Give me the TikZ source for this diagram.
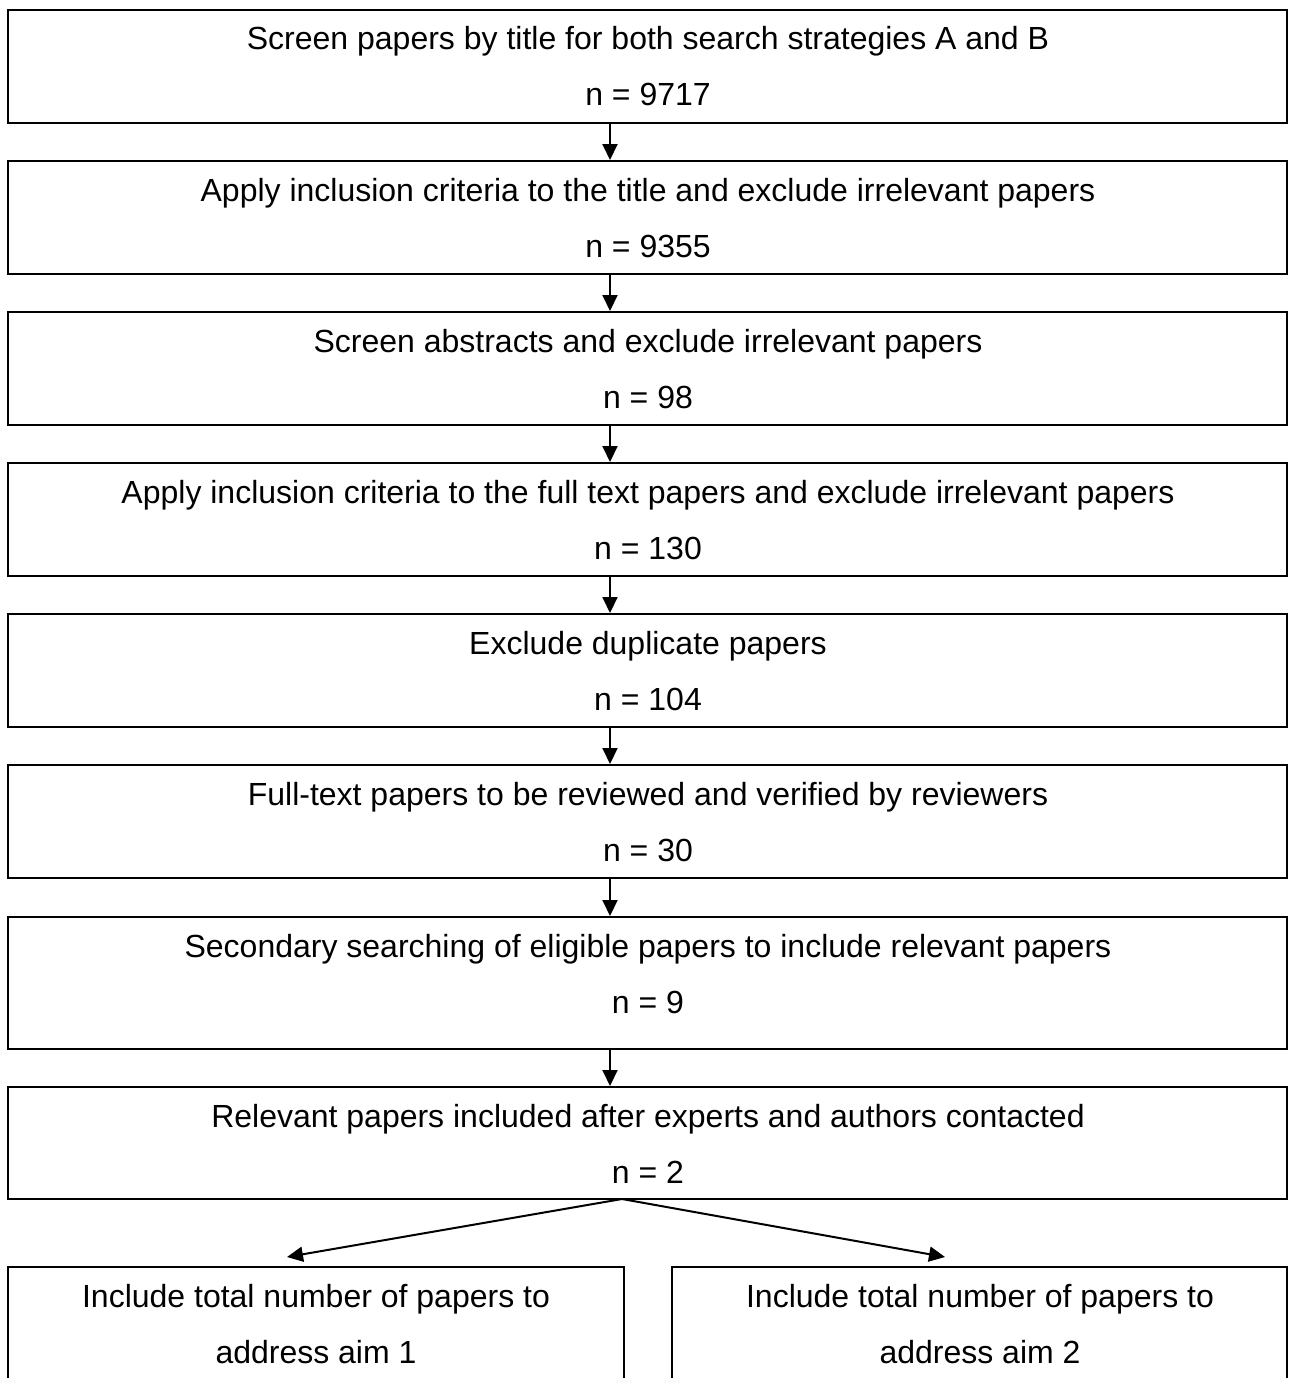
\documentclass[tikz,border=0pt]{standalone}
\usepackage{fontspec}
\setmainfont{Liberation Sans}
\usetikzlibrary{arrows.meta}
\begin{document}
\begin{tikzpicture}[x=1pt,y=-1pt,
  stagebox/.style={draw=black,line width=2pt,inner sep=0pt},
  stagetext/.style={inner sep=0pt,font=\fontsize{32}{36}\selectfont,anchor=base},
  flow/.style={line width=2pt,-{Triangle[length=16pt,width=15pt]}}]
\useasboundingbox (0,0) rectangle (1288,1378);
\begin{scope}
\clip (0,0) rectangle (1288,1378);
% stage boxes: name, top, bottom
\foreach \n/\t/\b in {b1/10/123,b2/161/274,b3/312/425,b4/463/576,b5/614/727,b6/765/878,b7/917/1049,b8/1087/1199}{
  \node[stagebox,minimum width=1279pt,minimum height=\b pt-\t pt] (\n) at (647.5,{(\t+\b)/2}) {};
}
\node[stagebox,minimum width=616pt,minimum height=140pt] (b9) at (316,1337) {};
\node[stagebox,minimum width=615pt,minimum height=140pt] (b10) at (979.5,1337) {};
\end{scope}
% box texts (baselines)
\node[stagetext] (t1a) at (648,50) {Screen papers by title for both search strategies A and B};
\node[stagetext] (t1b) at (648,106) {n = 9717};
\node[stagetext] (t2a) at (648,201) {Apply inclusion criteria to the title and exclude irrelevant papers};
\node[stagetext] (t2b) at (648,257) {n = 9355};
\node[stagetext] (t3a) at (648,352) {Screen abstracts and exclude irrelevant papers};
\node[stagetext] (t3b) at (648,408) {n = 98};
\node[stagetext] (t4a) at (648,503) {Apply inclusion criteria to the full text papers and exclude irrelevant papers};
\node[stagetext] (t4b) at (648,559) {n = 130};
\node[stagetext] (t5a) at (648,654) {Exclude duplicate papers};
\node[stagetext] (t5b) at (648,710) {n = 104};
\node[stagetext] (t6a) at (648,805) {Full-text papers to be reviewed and verified by reviewers};
\node[stagetext] (t6b) at (648,861) {n = 30};
\node[stagetext] (t7a) at (648,957) {Secondary searching of eligible papers to include relevant papers};
\node[stagetext] (t7b) at (648,1013) {n = 9};
\node[stagetext] (t8a) at (648,1127) {Relevant papers included after experts and authors contacted};
\node[stagetext] (t8b) at (648,1183) {n = 2};
\node[stagetext] (t9a) at (316,1307) {Include total number of papers to};
\node[stagetext] (t9b) at (316,1363) {address aim 1};
\node[stagetext] (t10a) at (980,1307) {Include total number of papers to};
\node[stagetext] (t10b) at (980,1363) {address aim 2};
% vertical connectors
\foreach \a/\b in {b1/b2,b2/b3,b3/b4,b4/b5,b5/b6,b6/b7,b7/b8}{
  \draw[flow] (\a.south -| 610,0) -- (\b.north -| 610,0);
}
% split to the two aims
\coordinate (split) at (622,1199);
\coordinate (aimL) at (287,1257);
\coordinate (aimR) at (945,1257);
\draw[flow] (split) -- (aimL);
\draw[flow] (split) -- (aimR);
\end{tikzpicture}
\end{document}
